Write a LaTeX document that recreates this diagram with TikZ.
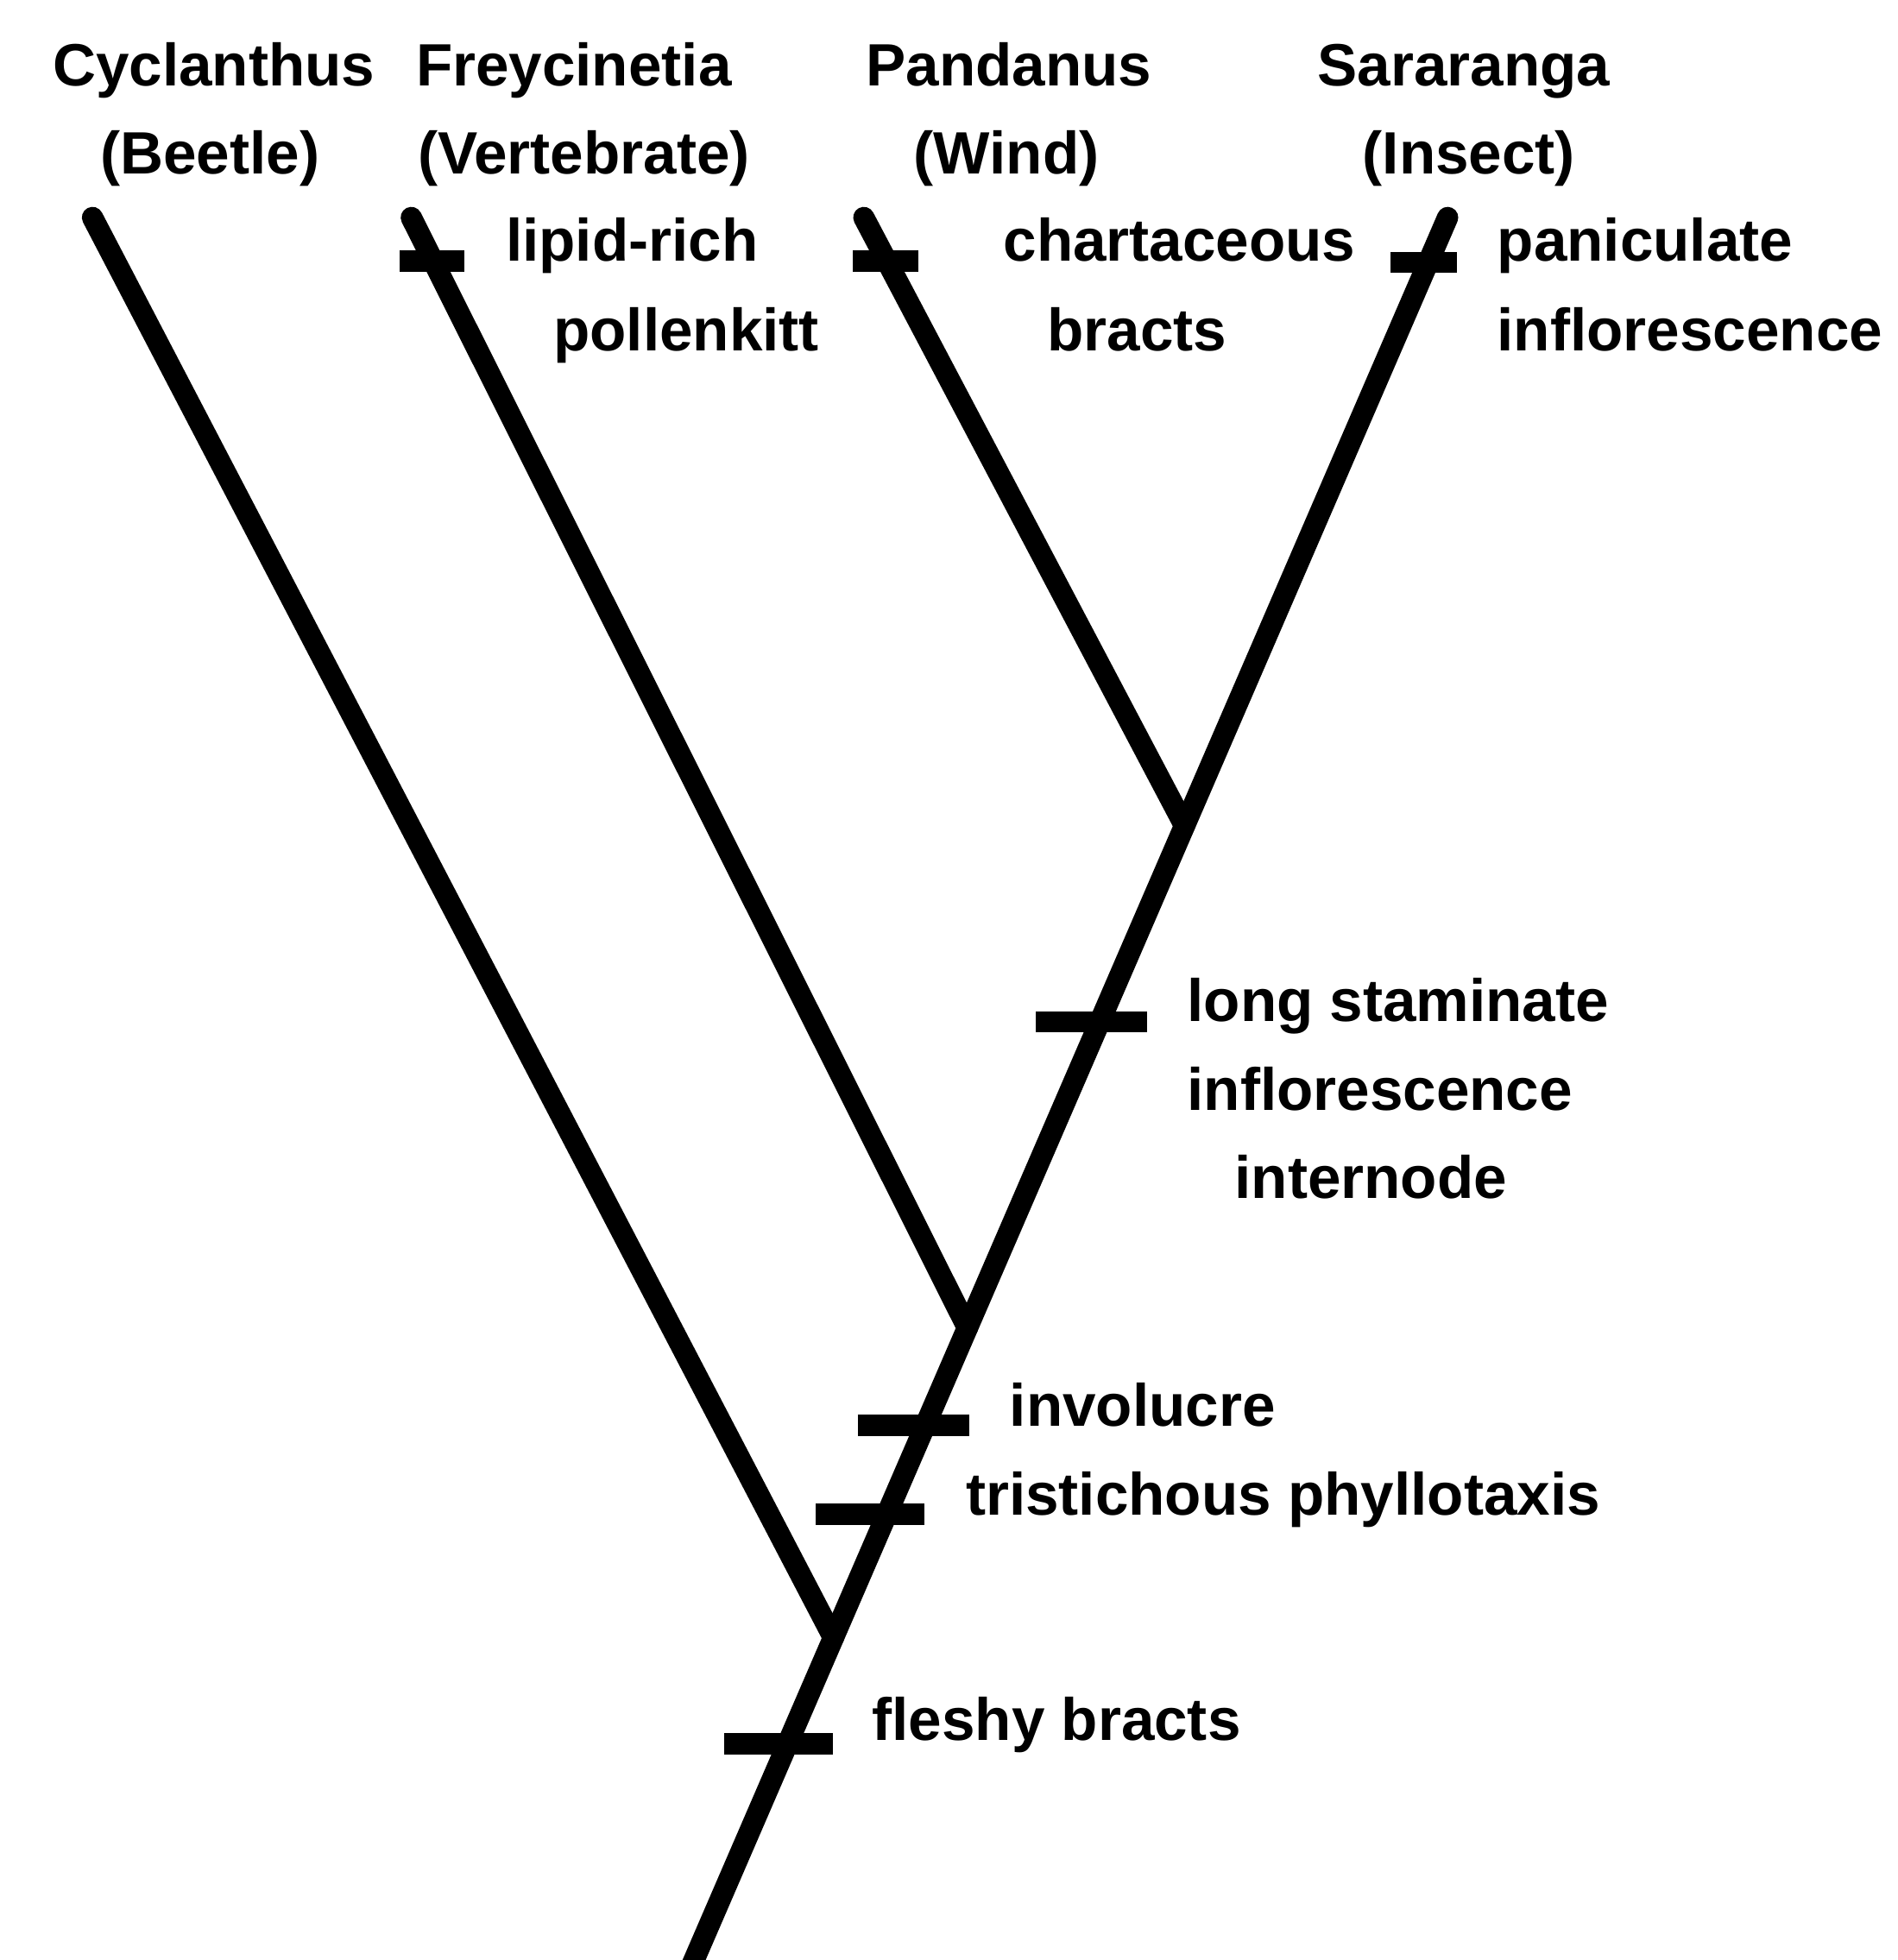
\documentclass[tikz,border=0pt]{standalone}
\usepackage{fontspec}
\setmainfont{Liberation Sans}
\usepackage{tikz}
\usetikzlibrary{calc}
\newcommand{\lblfont}{\fontsize{13.6}{20}\selectfont\bfseries}
\tikzset{
  branch/.style={line width=1.7mm,line cap=round,color=black},
  apomark/.style={line width=1.7mm,line cap=butt,color=black},
  taxon/.style={anchor=base,inner sep=0pt,font=\lblfont},
  charlbl/.style={anchor=base west,inner sep=0pt,font=\lblfont}
}

\begin{document}
\begin{tikzpicture}

  \useasboundingbox[fill=white] (0,0) rectangle (15.18,-15.68);

  %% Taxa and pollinators
  \node[taxon] (cyclanthus)  at (1.71,-0.69) {Cyclanthus};
  \node[taxon] (beetle)      at (1.68,-1.39) {(Beetle)};
  \node[taxon] (freycinetia) at (4.59,-0.69) {Freycinetia};
  \node[taxon] (vertebrate)  at (4.67,-1.39) {(Vertebrate)};
  \node[taxon] (pandanus)    at (8.07,-0.69) {Pandanus};
  \node[taxon] (wind)        at (8.05,-1.39) {(Wind)};
  \node[taxon] (sararanga)   at (11.71,-0.69) {Sararanga};
  \node[taxon] (insect)      at (11.75,-1.39) {(Insect)};

  %% Tips, root and branching points
  \coordinate (tipC) at (0.74,-1.74);
  \coordinate (tipF) at (3.29,-1.74);
  \coordinate (tipP) at (6.91,-1.74);
  \coordinate (tipS) at (11.58,-1.74);
  \coordinate (root) at (5.50,-15.80);
  \coordinate (nodePS) at ($(tipS)!0.3461!(root)$);
  \coordinate (nodeF)  at ($(tipS)!0.6318!(root)$);
  \coordinate (nodeC)  at ($(tipS)!0.8081!(root)$);

  %% Branches
  \draw[branch] (tipS) -- (root);
  \draw[branch] (tipP) -- (nodePS);
  \draw[branch] (tipF) -- (nodeF);
  \draw[branch] (tipC) -- (nodeC);

  %% Character marks on the terminal branches
  \coordinate (markF) at ($(tipF)!0.0394!(nodeF)$);
  \coordinate (markP) at ($(tipP)!0.0719!(nodePS)$);
  \coordinate (markS) at ($(tipS)!0.0256!(root)$);
  \draw[apomark] ([xshift=-2.7mm]markF) -- ([xshift=2.5mm]markF);
  \draw[apomark] ([xshift=-2.7mm]markP) -- ([xshift=2.5mm]markP);
  \draw[apomark] ([xshift=-3.0mm]markS) -- ([xshift=2.3mm]markS);

  %% Character marks on the stem
  \coordinate (markLS) at ($(tipS)!0.4577!(root)$);
  \coordinate (markIv) at ($(tipS)!0.6873!(root)$);
  \coordinate (markTr) at ($(tipS)!0.7377!(root)$);
  \coordinate (markFl) at ($(tipS)!0.8685!(root)$);
  \draw[apomark] ([xshift=-5.1mm]markLS) -- ([xshift=3.8mm]markLS);
  \draw[apomark] ([xshift=-5.4mm]markIv) -- ([xshift=3.5mm]markIv);
  \draw[apomark] ([xshift=-5.7mm]markTr) -- ([xshift=3.0mm]markTr);
  \draw[apomark] ([xshift=-5.1mm]markFl) -- ([xshift=3.6mm]markFl);

  %% Character labels
  \node[charlbl] (lipid)      at (4.04,-2.09) {lipid-rich};
  \node[charlbl] (pollenkitt) at (4.42,-2.81) {pollenkitt};
  \node[charlbl] (chartac)    at (8.02,-2.09) {chartaceous};
  \node[charlbl] (bracts)     at (8.37,-2.81) {bracts};
  \node[charlbl] (panic)      at (11.97,-2.09) {paniculate};
  \node[charlbl] (inflorA)    at (11.97,-2.81) {inflorescence};
  \node[charlbl] (longstam)   at (9.49,-8.17) {long staminate};
  \node[charlbl] (inflorB)    at (9.49,-8.88) {inflorescence};
  \node[charlbl] (internode)  at (9.87,-9.59) {internode};
  \node[charlbl] (involucre)  at (8.07,-11.41) {involucre};
  \node[charlbl] (tristich)   at (7.72,-12.12) {tristichous phyllotaxis};
  \node[charlbl] (fleshy)     at (6.97,-13.92) {fleshy bracts};

\end{tikzpicture}
\end{document}
